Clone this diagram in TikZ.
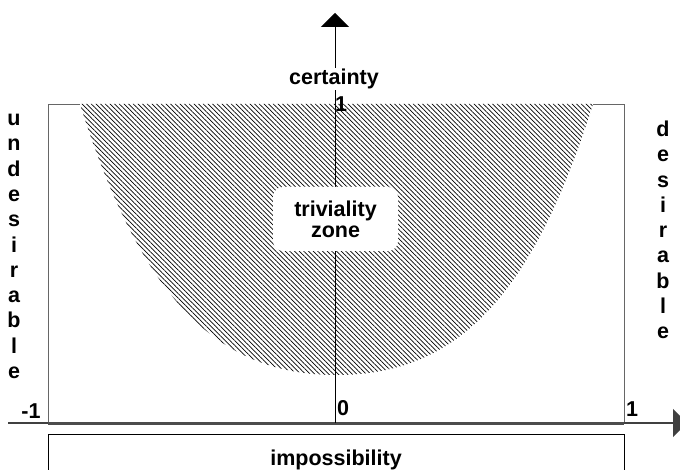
\documentclass[tikz,border=0pt]{standalone}
\usepackage{fontspec}
\setmainfont{Liberation Sans}
\usetikzlibrary{arrows.meta, patterns.meta, positioning}
\tikzset{
    axisline/.style={draw=black!75, line width=1.6pt},
    axisarrow/.style={-{Triangle[length=14pt,width=28pt]}},
    panel/.style={draw=black!60, line width=0.9pt},
    txt/.style={font=\fontsize{21.5}{21}\selectfont\bfseries, inner sep=1pt},
    vlabel/.style={txt, align=center, font=\fontsize{21.5}{25.3}\selectfont\bfseries},
    zonebox/.style={txt, fill=white, rounded corners=10pt, minimum width=125pt, minimum height=64pt, align=center},
    impbox/.style={txt, draw=black, line width=0.9pt, minimum width=576pt, minimum height=50pt},
    hatch/.style={fill=white, postaction={pattern={Lines[angle=-45,distance=3.3pt,line width=0.7pt]}}},
}
\begin{document}
\begin{tikzpicture}[x=1pt, y=-1pt]
    \useasboundingbox (0,0) rectangle (680,470);
    \clip (0,0) rectangle (680,470);

    % Frame and zone
    \coordinate (ll) at (48,423);
    \coordinate (ur) at (624,104);
    \draw[panel] (ll) rectangle (ur);
    \path[hatch] (80,104) .. controls (140,295) and (215,375) .. (336.5,375)
        .. controls (458,375) and (533,295) .. (593,104) -- cycle;

    % Axes
    \coordinate (xl) at (8,423);
    \coordinate (xr) at (687,423);
    \coordinate (lr) at (624,423);
    \coordinate (o) at (335,423);
    \coordinate (yt) at (335,13);
    \draw[axisline, axisarrow] (xl) -- (xr);
    \draw[draw=black!70, line width=3pt] (ll) -- (lr);
    \draw[line width=1pt, axisarrow] (o) -- (yt);

    % Labels
    \node[txt, fill=white] (cert) at (334,79) {certainty};
    \node[txt] (one) at (341,104) {1};
    \node[zonebox] (zone) at (335.5,219) {triviality\\zone};
    \node[txt] (zero) at (343,408) {0};
    \node[txt] (mone) at (31,411) {-1};
    \node[txt] (pone) at (632,409) {1};
    \node[impbox, anchor=north] (imp) at (336,434) {impossibility};
    \node[vlabel] (undes) at (14,246.5) {u\\n\\d\\e\\s\\i\\r\\a\\b\\l\\e};
    \node[vlabel] (des) at (663,230) {d\\e\\s\\i\\r\\a\\b\\l\\e};
\end{tikzpicture}
\end{document}
